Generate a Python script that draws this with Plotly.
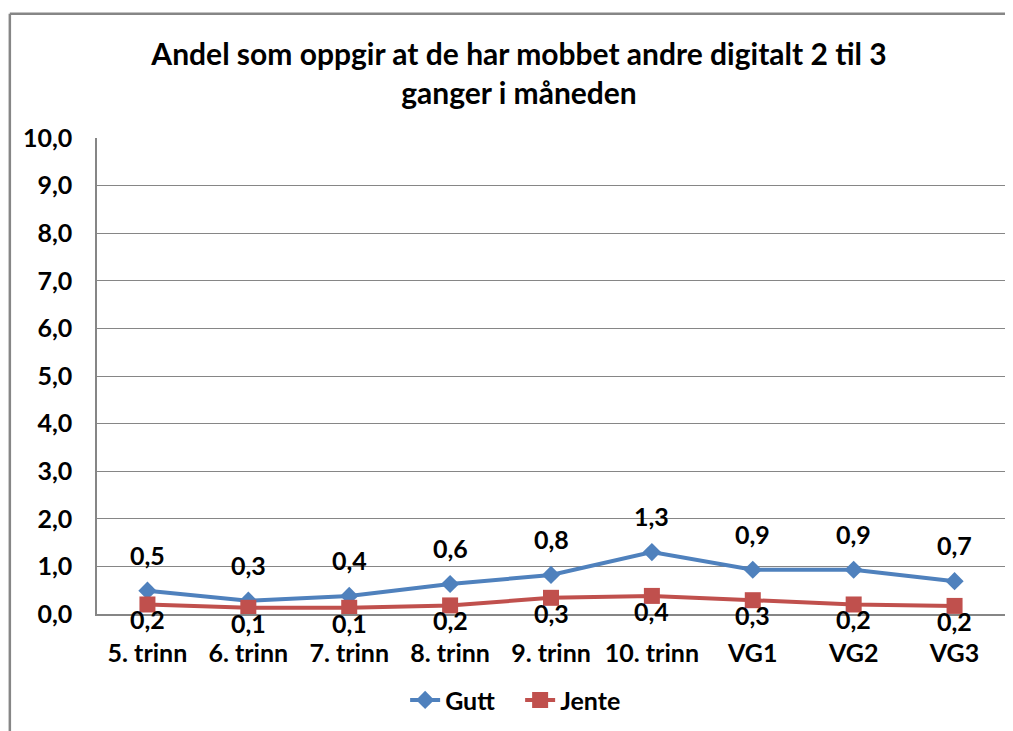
import plotly.graph_objects as go

# categories and series
trinn = ["5. trinn", "6. trinn", "7. trinn", "8. trinn", "9. trinn",
         "10. trinn", "VG1", "VG2", "VG3"]
gutt = [0.49, 0.28, 0.38, 0.63, 0.82, 1.30, 0.93, 0.93, 0.69]
jente = [0.20, 0.13, 0.13, 0.18, 0.34, 0.38, 0.29, 0.20, 0.17]

FONT = "Lato"
BLUE = "#4F81BD"
RED = "#C0504D"
GREY = "#868686"
FS = 25

W, H = 1005, 723

fig = go.Figure()

fig.add_trace(go.Scatter(
    x=trinn, y=gutt, name="Gutt", mode="lines+markers",
    line=dict(color=BLUE, width=4),
    marker=dict(symbol="diamond", size=14, color=BLUE),
))
fig.add_trace(go.Scatter(
    x=trinn, y=jente, name="Jente", mode="lines+markers",
    line=dict(color=RED, width=4),
    marker=dict(symbol="square", size=16, color=RED),
))


def fmt(v):
    return f"{v:.1f}".replace(".", ",")


# data labels: Gutt above the points, Jente below
for cat, v in zip(trinn, gutt):
    fig.add_annotation(x=cat, y=v, text=fmt(v), showarrow=False,
                       xref="x", yref="y", yshift=36,
                       font=dict(family=FONT, size=FS, color="black", weight="bold"))
for cat, v in zip(trinn, jente):
    fig.add_annotation(x=cat, y=v, text=fmt(v), showarrow=False,
                       xref="x", yref="y", yshift=-15,
                       font=dict(family=FONT, size=FS, color="black", weight="bold"))

# outer chart frame (top and left edges visible in the reference)
fig.add_shape(type="line", xref="paper", yref="paper",
              x0=-0.096, x1=1.02, y0=1.261, y1=1.261,
              line=dict(color=GREY, width=2.5))
fig.add_shape(type="line", xref="paper", yref="paper",
              x0=-0.096, x1=-0.096, y0=1.261, y1=-0.3,
              line=dict(color=GREY, width=2.5))

fig.update_layout(
    width=W, height=H,
    margin=dict(l=89, r=8, t=130, b=114),
    paper_bgcolor="white", plot_bgcolor="white",
    separators=",.",
    font=dict(family=FONT, size=FS, color="black", weight="bold"),
    title=dict(
        text="Andel som oppgir at de har mobbet andre digitalt 2 til 3<br>ganger i måneden",
        x=511 / W, xanchor="center", xref="container",
        y=1 - 57 / H, yanchor="top", yref="container",
        font=dict(family=FONT, size=30, color="black", weight="bold"),
    ),
    xaxis=dict(
        range=[-0.5, len(trinn) - 0.5],
        showgrid=False, showline=True, linecolor=GREY, linewidth=1.5,
        ticks="", ticklabelstandoff=16, tickfont=dict(size=FS),
    ),
    yaxis=dict(
        range=[0, 10], dtick=1, tickformat=".1f",
        showgrid=True, gridcolor=GREY, gridwidth=1,
        showline=True, linecolor=GREY, linewidth=1.5,
        ticks="", ticklabelstandoff=18, tickfont=dict(size=FS),
        zeroline=False,
    ),
    showlegend=True,
    legend=dict(orientation="h", x=0.466, xanchor="center",
                y=-0.181, yanchor="middle", entrywidth=70,
                font=dict(size=FS)),
)

fig.write_html("out.html")
